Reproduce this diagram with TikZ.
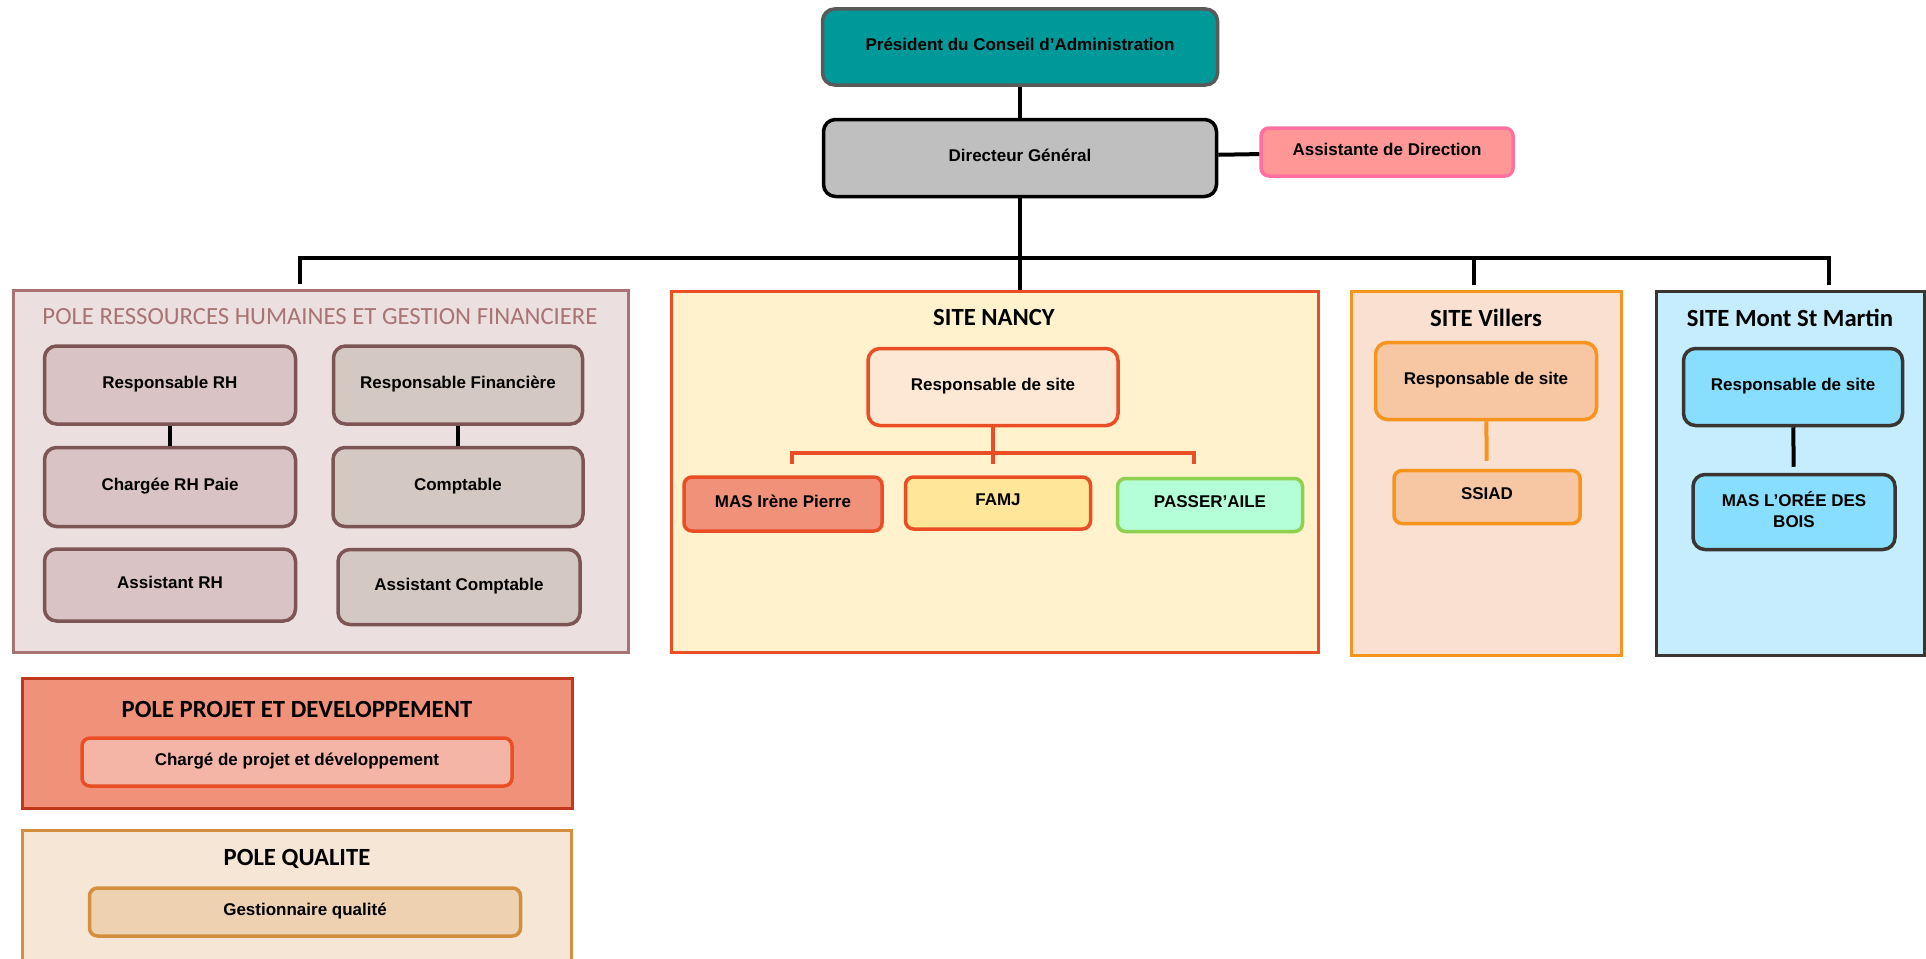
\documentclass[tikz,border=0pt]{standalone}
\usepackage{fontspec}
\setmainfont{Carlito}
\newfontfamily\boxfont{Liberation Sans}
\definecolor{presfill}{HTML}{009999}
\definecolor{presline}{HTML}{5A5A5A}
\definecolor{dgfill}{HTML}{BFBFBF}
\definecolor{asstfill}{HTML}{FF9797}
\definecolor{asstline}{HTML}{FF6F9F}
\definecolor{prhfill}{HTML}{EBE0DF}
\definecolor{prhline}{HTML}{A87372}
\definecolor{rhfill}{HTML}{D9C3C4}
\definecolor{finfill}{HTML}{D3C8C2}
\definecolor{rhline}{HTML}{7D5555}
\definecolor{nancyfill}{HTML}{FFF2CC}
\definecolor{nancyline}{HTML}{E94E24}
\definecolor{nrespfill}{HTML}{FDE8D3}
\definecolor{masfill}{HTML}{F0927A}
\definecolor{famjfill}{HTML}{FFE699}
\definecolor{passfill}{HTML}{B4FFD8}
\definecolor{passline}{HTML}{8FD14F}
\definecolor{vilfill}{HTML}{F9E0D0}
\definecolor{villine}{HTML}{F7941E}
\definecolor{vrespfill}{HTML}{F6C7A2}
\definecolor{msmfill}{HTML}{C5EDFD}
\definecolor{msmline}{HTML}{3A3530}
\definecolor{mrespfill}{HTML}{87DEFE}
\definecolor{projfill}{HTML}{F0927A}
\definecolor{projline}{HTML}{C0391B}
\definecolor{cprojfill}{HTML}{F4B4A6}
\definecolor{qualfill}{HTML}{F5E6D6}
\definecolor{qualline}{HTML}{D38F3D}
\definecolor{gqfill}{HTML}{EDD1B1}
\begin{document}
\begin{tikzpicture}[x=1pt,y=-1pt,
	box/.style={draw,rounded corners=12pt,line width=3.5pt,inner sep=0pt,align=center,
		text depth=6pt,font=\boxfont\bfseries\fontsize{17}{21}\selectfont},
	pole/.style={draw,line width=3pt,inner sep=0pt},
	poletitle/.style={font=\bfseries\fontsize{24.7}{29}\selectfont},
	link/.style={line width=4pt}]
	\useasboundingbox (0,0) rectangle (1926,958);
	% top of the chart
	\node[box,fill=presfill,draw=presline,minimum width=395pt,minimum height=76pt] (pres) at (1020,47) {Président du Conseil d’Administration};
	\node[box,fill=dgfill,draw=black,minimum width=393pt,minimum height=77pt] (dg) at (1020,158) {Directeur Général};
	\node[box,fill=asstfill,draw=asstline,rounded corners=8pt,minimum width=252pt,minimum height=48pt] (asst) at (1387,152) {Assistante de Direction};
	\draw[link] (pres) -- (dg);
	\draw[link] (dg) -- (asst);
	% poles and sites
	\node[pole,fill=prhfill,draw=prhline,minimum width=615pt,minimum height=362pt] (prh) at (320.5,471) {};
	\node[pole,fill=nancyfill,draw=nancyline,minimum width=647pt,minimum height=361pt] (nancy) at (994.5,471.5) {};
	\node[pole,fill=vilfill,draw=villine,minimum width=270pt,minimum height=364pt] (vil) at (1486,473) {};
	\node[pole,fill=msmfill,draw=msmline,minimum width=268pt,minimum height=364pt] (msm) at (1790,473) {};
	\node[pole,fill=projfill,draw=projline,minimum width=550pt,minimum height=130pt] (proj) at (297,743) {};
	\node[pole,fill=qualfill,draw=qualline,minimum width=549pt,minimum height=136pt] (qual) at (296.5,898) {};
	\node[poletitle,font=\fontsize{24.7}{29}\selectfont,text=prhline] (prhtitle) at (320,317) {POLE RESSOURCES HUMAINES ET GESTION FINANCIERE};
	\node[poletitle] (nancytitle) at (994,317) {SITE NANCY};
	\node[poletitle] (viltitle) at (1486,318) {SITE Villers};
	\node[poletitle] (msmtitle) at (1790,318) {SITE Mont St Martin};
	\node[poletitle] (projtitle) at (297,709) {POLE PROJET ET DEVELOPPEMENT};
	\node[poletitle] (qualtitle) at (297,859) {POLE QUALITE};
	% the bus under the director
	\coordinate (busrh) at (300,258);
	\coordinate (busvil) at (1474,258);
	\coordinate (busmsm) at (1829,258);
	\draw[link] (dg) -- (dg |- nancy.north);
	\draw[link,shorten <=5pt,shorten >=5pt] (busrh |- prh.north) -- (busrh) -- (busmsm) -- (busmsm |- msm.north);
	\draw[link,shorten >=5pt] (busvil) -- (busvil |- vil.north);
	% ressources humaines
	\node[box,fill=rhfill,draw=rhline,minimum width=251pt,minimum height=78pt] (rrh) at (170,385) {Responsable RH};
	\node[box,fill=finfill,draw=rhline,minimum width=249pt,minimum height=78pt] (rfin) at (458,385) {Responsable Financière};
	\node[box,fill=rhfill,draw=rhline,minimum width=251pt,minimum height=79pt] (crh) at (170,487) {Chargée RH Paie};
	\node[box,fill=finfill,draw=rhline,minimum width=250pt,minimum height=79pt] (compt) at (458,487) {Comptable};
	\node[box,fill=rhfill,draw=rhline,minimum width=251pt,minimum height=72pt] (arh) at (170,585) {Assistant RH};
	\node[box,fill=finfill,draw=rhline,minimum width=242pt,minimum height=75pt] (acompt) at (459,587) {Assistant Comptable};
	\draw[link] (rrh) -- (crh);
	\draw[link] (rfin) -- (compt);
	% site nancy
	\node[box,fill=nrespfill,draw=nancyline,minimum width=250pt,minimum height=77pt] (nresp) at (993,387) {Responsable de site};
	\node[box,fill=masfill,draw=nancyline,rounded corners=8pt,minimum width=198pt,minimum height=54pt] (mas) at (783,504) {MAS Irène Pierre};
	\node[box,fill=famjfill,draw=nancyline,rounded corners=8pt,minimum width=185pt,minimum height=52pt] (famj) at (998,503) {FAMJ};
	\node[box,fill=passfill,draw=passline,rounded corners=8pt,minimum width=185pt,minimum height=53pt] (pass) at (1210,505) {PASSER’AILE};
	\coordinate (nl) at (792,464);
	\coordinate (nr) at (1194,464);
	\draw[link,draw=nancyline] (nresp) -- (nresp.south |- nl);
	\draw[link,draw=nancyline] (nl) -- ++(0,-11) -| (nr);
	% site villers
	\node[box,fill=vrespfill,draw=villine,minimum width=221pt,minimum height=77pt] (vresp) at (1486,381) {Responsable de site};
	\node[box,fill=vrespfill,draw=villine,rounded corners=8pt,minimum width=186pt,minimum height=53pt] (ssiad) at (1487,497) {SSIAD};
	\draw[link,draw=villine,shorten >=8pt] (vresp) -- (ssiad);
	% site mont st martin
	\node[box,fill=mrespfill,draw=msmline,minimum width=219pt,minimum height=77pt] (mresp) at (1793,387) {Responsable de site};
	\node[box,fill=mrespfill,draw=msmline,minimum width=202pt,minimum height=75pt] (mas2) at (1794,512) {MAS L’ORÉE DES\\BOIS};
	\draw[link,shorten >=6pt] (mresp) -- (mas2);
	% projet et qualite
	\node[box,fill=cprojfill,draw=nancyline,rounded corners=8pt,minimum width=430pt,minimum height=48pt] (cproj) at (297,762) {Chargé de projet et développement};
	\node[box,fill=gqfill,draw=qualline,rounded corners=8pt,minimum width=431pt,minimum height=48pt] (gq) at (305,912) {Gestionnaire qualité};
\end{tikzpicture}
\end{document}
